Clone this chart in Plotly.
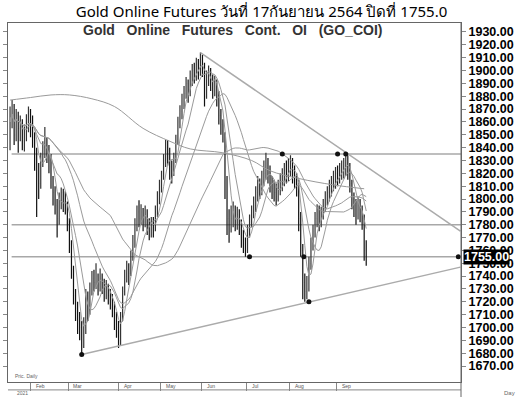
import numpy as np
import pandas as pd
import plotly.graph_objects as go

# ---------------- data ----------------
close = [1860, 1872, 1850, 1865, 1855, 1858, 1845, 1850, 1862, 1868,
         1860, 1848, 1835, 1822, 1812, 1830, 1840, 1845, 1838, 1830,
         1815, 1805, 1795, 1785, 1800, 1805, 1800, 1795, 1780, 1765,
         1745, 1725, 1715, 1705, 1700, 1685, 1700, 1725, 1715, 1730,
         1738, 1735, 1740, 1733, 1738, 1735, 1728, 1730, 1725, 1722,
         1715, 1705, 1700, 1690, 1705, 1728, 1740, 1745, 1742, 1755,
         1765, 1780, 1790, 1785, 1790, 1782, 1790, 1778, 1775, 1780,
         1778, 1790, 1800, 1810, 1818, 1830, 1840, 1838, 1825, 1820,
         1830, 1845, 1860, 1868, 1878, 1882, 1890, 1885, 1895, 1900,
         1898, 1905, 1902, 1910, 1905, 1880, 1895, 1900, 1892, 1888,
         1890, 1880, 1865, 1858, 1850, 1815, 1785, 1780, 1785, 1790,
         1782, 1788, 1780, 1770, 1765, 1760, 1775, 1782, 1790, 1795,
         1805, 1810, 1808, 1815, 1820, 1828, 1822, 1812, 1808, 1805,
         1802, 1810, 1812, 1818, 1822, 1820, 1825, 1830, 1820, 1815,
         1812, 1785, 1760, 1735, 1728, 1730, 1750, 1765, 1775, 1785,
         1790, 1782, 1788, 1795, 1800, 1805, 1808, 1812, 1815, 1820,
         1818, 1822, 1825, 1828, 1832, 1825, 1812, 1800, 1795, 1790,
         1795, 1790, 1785, 1760, 1755]
high = [1872, 1877, 1874, 1870, 1868, 1865, 1862, 1858, 1866, 1872,
        1870, 1865, 1852, 1840, 1828, 1836, 1845, 1856, 1848, 1842,
        1835, 1818, 1810, 1800, 1805, 1809, 1808, 1806, 1798, 1785,
        1768, 1748, 1730, 1720, 1712, 1705, 1708, 1730, 1728, 1735,
        1744, 1745, 1750, 1742, 1746, 1742, 1738, 1737, 1734, 1730,
        1726, 1720, 1712, 1705, 1712, 1732, 1745, 1752, 1750, 1760,
        1772, 1785, 1795, 1799, 1796, 1793, 1795, 1792, 1785, 1786,
        1786, 1795, 1806, 1815, 1822, 1835, 1846, 1846, 1840, 1830,
        1836, 1850, 1864, 1873, 1882, 1888, 1895, 1893, 1900, 1905,
        1906, 1910, 1909, 1914, 1912, 1906, 1900, 1904, 1902, 1897,
        1896, 1893, 1884, 1870, 1862, 1852, 1818, 1792, 1795, 1798,
        1795, 1794, 1792, 1784, 1776, 1770, 1780, 1788, 1795, 1802,
        1810, 1818, 1816, 1822, 1830, 1836, 1832, 1826, 1818, 1815,
        1812, 1815, 1820, 1824, 1828, 1830, 1832, 1834, 1832, 1826,
        1820, 1815, 1790, 1765, 1742, 1740, 1755, 1770, 1780, 1790,
        1796, 1795, 1794, 1800, 1806, 1810, 1815, 1818, 1822, 1825,
        1826, 1828, 1830, 1832, 1835, 1834, 1828, 1815, 1805, 1800,
        1802, 1800, 1795, 1788, 1768]
low = [1838, 1855, 1842, 1845, 1836, 1845, 1838, 1837, 1845, 1852,
       1848, 1840, 1822, 1786, 1800, 1808, 1825, 1832, 1828, 1820,
       1808, 1795, 1788, 1770, 1780, 1792, 1790, 1788, 1775, 1758,
       1738, 1718, 1705, 1695, 1690, 1679, 1684, 1695, 1705, 1710,
       1725, 1728, 1730, 1725, 1728, 1726, 1720, 1722, 1718, 1714,
       1708, 1698, 1692, 1684, 1686, 1714, 1725, 1735, 1733, 1740,
       1752, 1762, 1775, 1778, 1780, 1775, 1778, 1772, 1768, 1770,
       1770, 1775, 1786, 1796, 1805, 1815, 1825, 1826, 1815, 1812,
       1818, 1828, 1842, 1855, 1862, 1870, 1878, 1875, 1880, 1888,
       1890, 1892, 1893, 1896, 1895, 1872, 1878, 1888, 1884, 1878,
       1880, 1872, 1858, 1850, 1844, 1800, 1772, 1766, 1774, 1778,
       1775, 1776, 1772, 1762, 1758, 1755, 1758, 1770, 1778, 1785,
       1790, 1798, 1800, 1803, 1810, 1815, 1812, 1805, 1800, 1798,
       1795, 1798, 1803, 1806, 1810, 1812, 1814, 1818, 1812, 1808,
       1802, 1775, 1755, 1722, 1720, 1722, 1728, 1745, 1760, 1770,
       1778, 1775, 1778, 1784, 1790, 1795, 1798, 1802, 1806, 1808,
       1810, 1812, 1815, 1816, 1818, 1815, 1805, 1792, 1786, 1780,
       1784, 1782, 1776, 1752, 1748]

long_ma_idx = [0, 10, 20, 29, 40, 51, 65, 78, 88, 104, 118, 127, 141, 158, 173]
long_ma_val = [1877, 1879, 1881, 1881, 1878, 1872, 1855, 1845, 1839, 1836,
               1830, 1822, 1816, 1811, 1808]
ma_windows = [5, 10, 25, 50]

hline_levels = [1835, 1780, 1755]
trend_down_idx = [93, 220]
trend_down_val = [1914, 1775]
trend_up_idx = [35, 220]
trend_up_val = [1679, 1747]
dot_idx = [35, 117, 133, 143.5, 146, 160, 164, 219]
dot_val = [1679, 1755, 1835, 1755, 1720, 1835, 1835, 1755]

month_labels = ["Feb", "Mar", "Apr", "May", "Jun", "Jul", "Aug", "Sep"]
month_start = [10.5, 29, 53.5, 74, 94, 116, 137, 160]
y_ticks = list(range(1670, 1931, 10))
last_close = 1755.0

title_text = "Gold Online Futures วันที่ 17กันยายน 2564 ปิดที่ 1755.0"
gap = " \u00a0\u00a0"
chart_name = gap.join(["Gold", "Online", "Futures", "Cont.", "OI", "(GO_COI)"])

# ---------------- build ----------------
n = len(close)
idx = np.arange(n)
c = np.array(close, dtype=float)
o = np.concatenate([[c[0]], c[:-1]])
h = np.maximum(np.array(high, dtype=float), np.maximum(o, c))
l = np.minimum(np.array(low, dtype=float), np.minimum(o, c))

fig = go.Figure()

s = pd.Series(c)
for w in ma_windows:
    fig.add_trace(go.Scatter(x=idx, y=s.rolling(w, min_periods=1).mean(),
                             mode="lines", line=dict(color="#9a9a9a", width=1),
                             hoverinfo="skip", showlegend=False))
fig.add_trace(go.Scatter(x=long_ma_idx, y=long_ma_val, mode="lines",
                         line=dict(color="#9a9a9a", width=1, shape="spline"),
                         showlegend=False, hoverinfo="skip"))

for lv in hline_levels:
    fig.add_shape(type="line", xref="paper", x0=0.008, x1=1, yref="y", y0=lv, y1=lv,
                  line=dict(color="#a8a8a8", width=1.5), layer="below")

fig.add_trace(go.Scatter(x=trend_down_idx, y=trend_down_val, mode="lines",
                         line=dict(color="#ababab", width=1.5), showlegend=False))
fig.add_trace(go.Scatter(x=trend_up_idx, y=trend_up_val, mode="lines",
                         line=dict(color="#ababab", width=1.5), showlegend=False))

fig.add_trace(go.Ohlc(x=idx, open=o, high=h, low=l, close=c,
                      increasing=dict(line=dict(color="#333333", width=1.2)),
                      decreasing=dict(line=dict(color="#111111", width=1.2)),
                      tickwidth=0.3, showlegend=False))

fig.add_trace(go.Scatter(x=dot_idx, y=dot_val, mode="markers",
                         marker=dict(color="#111", size=5), showlegend=False))

# month labels on the bottom strip
for lab, pos in zip(month_labels, month_start):
    fig.add_annotation(x=pos + 1, y=-0.0125, xref="x", yref="paper", text=lab,
                       showarrow=False, xanchor="left", yanchor="middle",
                       font=dict(size=5, color="#555", family="Liberation Sans"))
fig.add_shape(type="line", xref="paper", yref="paper", x0=0, x1=1, y0=-0.022, y1=-0.022,
              line=dict(color="#888", width=1))
fig.add_shape(type="line", xref="paper", yref="paper", x0=1, x1=1, y0=1, y1=-0.05,
              line=dict(color="#666", width=1))
fig.add_annotation(x=0.01, y=0.004, xref="paper", yref="paper", text="Pric. Daily",
                   showarrow=False, xanchor="left", yanchor="bottom",
                   font=dict(size=5, color="#666", family="Liberation Sans"))
fig.add_annotation(x=0.015, y=-0.032, xref="paper", yref="paper", text="2021",
                   showarrow=False, xanchor="left", yanchor="middle",
                   font=dict(size=5, color="#666", family="Liberation Sans"))
fig.add_annotation(x=1.107, y=-0.03, xref="paper", yref="paper", text="Day",
                   showarrow=False, xanchor="center", yanchor="middle",
                   font=dict(size=6, color="#666", family="Liberation Sans"))

# chart name inside plot
fig.add_annotation(x=0.496, y=0.98, xref="paper", yref="paper", text=chart_name,
                   showarrow=False, xanchor="center", yanchor="middle",
                   font=dict(size=14, color="#333", family="Liberation Sans", weight="bold"))

# highlighted last price
fig.add_annotation(x=1, y=last_close, xref="paper", yref="y", text=f"{last_close:.2f}",
                   showarrow=False, xanchor="left", yanchor="middle", xshift=2,
                   bgcolor="#000", borderpad=0,
                   font=dict(size=12.5, color="#fff", family="Liberation Sans", weight="bold"))

fig.update_layout(
    width=523, height=397,
    margin=dict(l=3, r=62, t=23, b=15),
    paper_bgcolor="white", plot_bgcolor="white",
    title=dict(text=title_text, x=0.5, xref="container", xanchor="center",
               y=1 - 12 / 397, yref="container", yanchor="middle",
               font=dict(size=15, color="#000", family="Noto Sans, DejaVu Sans")),
    showlegend=False,
    xaxis=dict(range=[-1, 220.3], showgrid=False, zeroline=False,
               showline=True, linecolor="#666", linewidth=1, mirror=True,
               tickmode="array", tickvals=[p - 0.5 for p in month_start], ticktext=[""] * len(month_start),
               ticks="outside", ticklen=8, tickcolor="#888",
               rangeslider=dict(visible=False), fixedrange=True),
    yaxis=dict(side="right", range=[1657.6, 1937], showgrid=False, zeroline=False,
               showline=True, linecolor="#666", linewidth=1, mirror="ticks",
               tickmode="array", tickvals=y_ticks, ticktext=[f"{v:.2f}" for v in y_ticks],
               ticks="outside", ticklen=4, tickcolor="#888",
               tickfont=dict(size=12.5, color="#000", family="Liberation Sans", weight="bold")),
)

fig.write_html("out.html", config={"displayModeBar": False},
               post_script="document.body.style.margin='0';")
